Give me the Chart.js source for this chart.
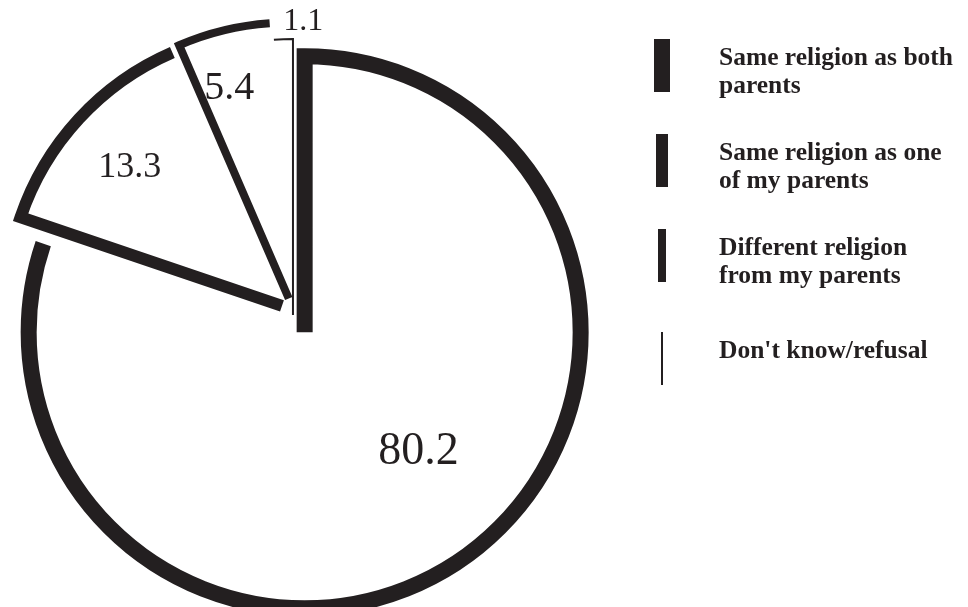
<!DOCTYPE html>
<html>
<head>
<meta charset="utf-8">
<script src="https://cdn.jsdelivr.net/npm/chart.js@4.4.0/dist/chart.umd.min.js"></script>
<style>
  html, body { margin: 0; padding: 0; background: #fff; }
  #wrap { position: relative; width: 968px; height: 607px; overflow: hidden; }
  #pie { position: absolute; left: 0; top: 0; }
  #legend {
    position: absolute; left: 654px; top: 39px;
    font-family: "Liberation Serif", serif; font-weight: bold;
    font-size: 25.5px; line-height: 28px; color: #231f20;
  }
  .item { display: flex; align-items: flex-start; margin-bottom: 35px; }
  .item:last-child { padding-top: 8px; }
  .swatch { width: 16px; height: 53px; display: flex; justify-content: center; flex: none; }
  .swatch span { display: block; height: 53px; background: #231f20; }
  .text { margin-left: 49px; padding-top: 4px; width: 244px; }
</style>
</head>
<body>
<div id="wrap">
  <canvas id="pie" width="968" height="607"></canvas>
  <div id="legend"></div>
</div>
<script>
const categories = [
  'Same religion as both parents',
  'Same religion as one of my parents',
  'Different religion from my parents',
  "Don't know/refusal"
];
const shares = [80.2, 13.3, 5.4, 1.1];
const shareLabels = ['80.2', '13.3', '5.4', '1.1'];

// look of each slice: outline weight, explode distance, which radial edge is stroked
const INK = '#231f20';
const sliceWeights = [16, 12, 8, 2];
const sliceOffsets = [20, 15, 18, 1];
const strokedEdge = ['start', 'start', 'start', 'end'];
// label anchor: [fraction of slice angle, fraction of radius], font size
const labelAnchor = [[0.47, 0.59], [0.5, 0.75], [0.4, 0.8], [1.5, 1.07]];
const labelSizes = [46, 36, 40, 32];

// legend built from the same categories
const legend = document.getElementById('legend');
categories.forEach((name, i) => {
  const item = document.createElement('div');
  item.className = 'item';
  item.innerHTML = '<div class="swatch"><span style="width:' + sliceWeights[i] + 'px"></span></div>' +
    '<div class="text"></div>';
  item.querySelector('.text').textContent = name;
  legend.appendChild(item);
});

// pie slices drawn as open outlines, shifted out along their mid angle
const openPie = {
  id: 'openPie',
  afterDatasetsDraw(chart) {
    const ctx = chart.ctx;
    const arcs = chart.getDatasetMeta(0).data;
    ctx.save();
    ctx.strokeStyle = INK;
    ctx.fillStyle = INK;
    ctx.lineJoin = 'miter';
    ctx.lineCap = 'butt';
    arcs.forEach((arc, i) => {
      const { x, y, startAngle, endAngle, outerRadius } =
        arc.getProps(['x', 'y', 'startAngle', 'endAngle', 'outerRadius'], true);
      const mid = (startAngle + endAngle) / 2;
      const ax = x + Math.cos(mid) * sliceOffsets[i];
      const ay = y + Math.sin(mid) * sliceOffsets[i];
      const r = outerRadius;

      ctx.lineWidth = sliceWeights[i];
      ctx.beginPath();
      if (strokedEdge[i] === 'start') {
        ctx.moveTo(ax, ay);
        ctx.lineTo(ax + Math.cos(startAngle) * r, ay + Math.sin(startAngle) * r);
        ctx.arc(ax, ay, r, startAngle, endAngle);
      } else {
        ctx.moveTo(ax + Math.cos(startAngle) * r, ay + Math.sin(startAngle) * r);
        ctx.arc(ax, ay, r, startAngle, endAngle);
        ctx.lineTo(ax, ay);
      }
      ctx.stroke();

      const [af, rf] = labelAnchor[i];
      const la = startAngle + (endAngle - startAngle) * af;
      const lx = ax + Math.cos(la) * r * rf;
      const ly = ay + Math.sin(la) * r * rf;
      ctx.font = labelSizes[i] + 'px "Liberation Serif", serif';
      ctx.textAlign = 'center';
      ctx.textBaseline = 'alphabetic';
      ctx.fillText(shareLabels[i], lx, ly + labelSizes[i] * 0.33);
    });
    ctx.restore();
  }
};

new Chart(document.getElementById('pie'), {
  type: 'pie',
  data: {
    labels: categories,
    datasets: [{
      data: shares,
      backgroundColor: '#ffffff',
      borderWidth: 0
    }]
  },
  options: {
    responsive: false,
    animation: false,
    radius: 276,
    layout: { padding: { left: 0, right: 382, top: 25, bottom: 0 } },
    plugins: {
      legend: { display: false },
      tooltip: { enabled: false }
    }
  },
  plugins: [openPie]
});
</script>
</body>
</html>
